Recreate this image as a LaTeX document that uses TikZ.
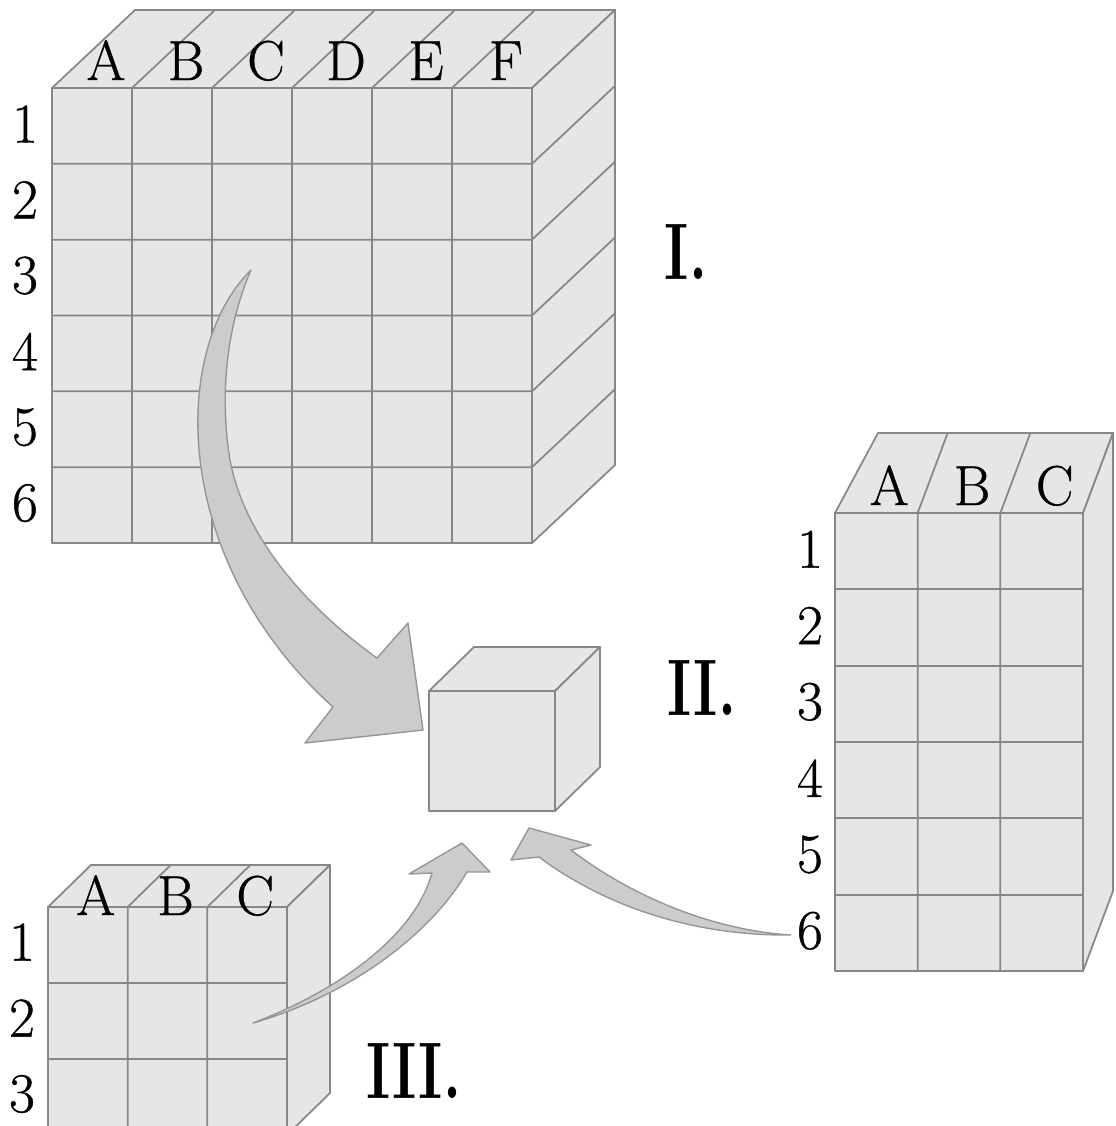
\documentclass[tikz,border=0pt]{standalone}
\usepackage{fontspec}
\newfontfamily\tabfont{Latin Modern Roman}[FakeBold=0.7]
\usepackage{graphicx}
\definecolor{cubefill}{RGB}{230,230,230}
\definecolor{cubeline}{RGB}{135,135,135}
\definecolor{arrowfill}{RGB}{204,204,204}
\definecolor{arrowline}{RGB}{150,150,150}
\tikzset{
	face/.style={fill=cubefill,draw=cubeline,line width=0.5pt,line join=round},
	gridline/.style={draw=cubeline,line width=0.5pt},
	bigarrow/.style={fill=arrowfill,draw=arrowline,line width=0.4pt,line join=round},
	lbl/.style={font=\tabfont\fontsize{16}{18}\selectfont,inner sep=0pt},
	roman/.style={font=\fontsize{22.8}{26}\selectfont\bfseries,inner sep=0pt}
}

\begin{document}
\begin{tikzpicture}[x=0.01cm,y=-0.01cm]
	\clip (0,0) rectangle (1116,1126);
	% table I
	\draw[face] (52,88) -- (135,10) -- (615,10) -- (532,88) -- cycle;
	\draw[face] (532,88) -- (615,10) -- (615,465) -- (532,543) -- cycle;
	\draw[face] (52,88) rectangle (532,543);
	\foreach \i in {1,...,5}{
		\draw[gridline] ({52+80*\i},543) -- ({52+80*\i},88) -- ({135+80*\i},10);
		\draw[gridline] (52,{88+75.83*\i}) -- (532,{88+75.83*\i}) -- (615,{10+75.83*\i});
	}
	\foreach \l [count=\i] in {A,...,F}
		\node[lbl,anchor=base] (I-\l) at ({26+80*\i},80) {\l};
	\foreach \i in {1,...,6}
		\node[lbl] (I-\i) at (25,{88+75.83*(\i-0.5)-2}) {\i};
	\node[roman] (labI) at (686,252) {\scalebox{0.72}[1]{I.}};
	% the cube
	\draw[face] (429,691) -- (474,647) -- (600,647) -- (555,691) -- cycle;
	\draw[face] (555,691) -- (600,647) -- (600,767) -- (555,811) -- cycle;
	\draw[face] (429,691) rectangle (555,811);
	\node[roman] (labII) at (702,688) {\scalebox{0.72}[1]{II.}};
	% table II
	\draw[face] (835,513) -- (878,433) -- (1113,433) -- (1083,513) -- cycle;
	\draw[face] (1083,513) -- (1113,433) -- (1113,891) -- (1083,971) -- cycle;
	\draw[face] (835,513) rectangle (1083,971);
	\foreach \i in {1,2}
		\draw[gridline] ({835+82.67*\i},971) -- ({835+82.67*\i},513) -- ({865+82.67*\i},433);
	\foreach \i in {1,...,5}
		\draw[gridline] (835,{513+76.33*\i}) -- (1083,{513+76.33*\i});
	\foreach \l [count=\i] in {A,B,C}
		\node[lbl,anchor=base] (II-\l) at ({835+82.67*(\i-0.5)+13},505) {\l};
	\foreach \i in {1,...,6}
		\node[lbl] (II-\i) at (810,{513+76.33*(\i-0.5)-2}) {\i};
	% table III
	\draw[face] (48,907) -- (91,865) -- (330,865) -- (287,907) -- cycle;
	\draw[face] (287,907) -- (330,865) -- (330,1093) -- (287,1135) -- cycle;
	\draw[face] (48,907) rectangle (287,1135);
	\foreach \i in {1,2}
		\draw[gridline] ({48+79.67*\i},1135) -- ({48+79.67*\i},907) -- ({91+79.67*\i},865);
	\foreach \i in {1,2}
		\draw[gridline] (48,{907+76*\i}) -- (287,{907+76*\i});
	\foreach \l [count=\i] in {A,B,C}
		\node[lbl,anchor=base] (III-\l) at ({48+79.67*(\i-0.5)+8},915) {\l};
	\foreach \i in {1,2,3}
		\node[lbl] (III-\i) at (22,{907+76*(\i-0.5)-3}) {\i};
	\node[roman] (labIII) at (414,1071) {\scalebox{0.72}[1]{III.}};
	% arrows
	\coordinate (fromI) at (251,270);
	\coordinate (fromII) at (791,935);
	\coordinate (fromIII) at (253,1023);
	\draw[bigarrow] (fromI) .. controls (170,350) and (170,560) .. (333,707)
		-- (305,743) -- (423,730) -- (408,623) -- (377,658)
		.. controls (310,610) and (245,540) .. (230,460)
		.. controls (220,400) and (225,330) .. (fromI) -- cycle;
	\draw[bigarrow] (fromII) .. controls (700,936) and (610,910) .. (539,857)
		-- (511,860) -- (529,828) -- (591,845) -- (571,850)
		.. controls (630,895) and (710,930) .. (fromII) -- cycle;
	\draw[bigarrow] (fromIII) .. controls (350,995) and (430,935) .. (467,872)
		-- (490,872) -- (462,843) -- (409,874) -- (432,873)
		.. controls (415,935) and (340,990) .. (fromIII) -- cycle;
\end{tikzpicture}
\end{document}
